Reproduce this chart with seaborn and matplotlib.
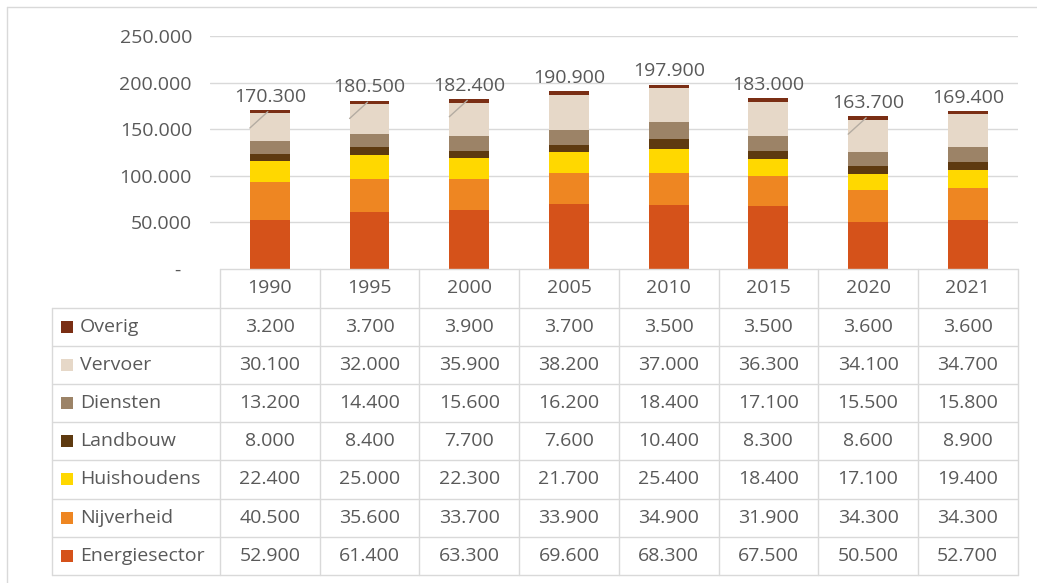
import matplotlib
matplotlib.use("Agg")
import matplotlib.pyplot as plt
import numpy as np
import pandas as pd
import seaborn as sns

# Emissions per sector (stack order: bottom to top)
years = ["1990", "1995", "2000", "2005", "2010", "2015", "2020", "2021"]
sectors = ["Energiesector", "Nijverheid", "Huishoudens", "Landbouw",
           "Diensten", "Vervoer", "Overig"]
energiesector = [52900, 61400, 63300, 69600, 68300, 67500, 50500, 52700]
nijverheid = [40500, 35600, 33700, 33900, 34900, 31900, 34300, 34300]
huishoudens = [22400, 25000, 22300, 21700, 25400, 18400, 17100, 19400]
landbouw = [8000, 8400, 7700, 7600, 10400, 8300, 8600, 8900]
diensten = [13200, 14400, 15600, 16200, 18400, 17100, 15500, 15800]
vervoer = [30100, 32000, 35900, 38200, 37000, 36300, 34100, 34700]
overig = [3200, 3700, 3900, 3700, 3500, 3500, 3600, 3600]
y_ticks = [0, 50000, 100000, 150000, 200000, 250000]
leader_years = ["1990", "1995", "2000", "2020"]

colors = {
    "Energiesector": "#D5521A",
    "Nijverheid": "#EE8622",
    "Huishoudens": "#FFD800",
    "Landbouw": "#5E3A10",
    "Diensten": "#9C8367",
    "Vervoer": "#E6D8C8",
    "Overig": "#7A2E14",
}

values = pd.DataFrame(
    {"Energiesector": energiesector, "Nijverheid": nijverheid,
     "Huishoudens": huishoudens, "Landbouw": landbouw,
     "Diensten": diensten, "Vervoer": vervoer, "Overig": overig},
    index=years,
)
cumulative = values.cumsum(axis=1)
totals = cumulative["Overig"]


def nl(v):
    return f"{int(v):,}".replace(",", ".")


sns.set_style("white")
plt.rcParams["font.family"] = ["Open Sans", "DejaVu Sans"]
TXT = "#595959"
GRID = "#d9d9d9"
FS = 14

W, H = 1037, 583
fig = plt.figure(figsize=(W / 100, H / 100), dpi=100)

# ---- chart area -------------------------------------------------------------
x_left, x_right = 210, 1017.7
y_top, y_bottom = 36, 269
ax = fig.add_axes([x_left / W, 1 - y_bottom / H,
                   (x_right - x_left) / W, (y_bottom - y_top) / H])

# stacked bars: draw the cumulative heights from the top of the stack down
for sector in reversed(sectors):
    sns.barplot(x=years, y=cumulative[sector].values, order=years,
                color=colors[sector], saturation=1, width=0.4,
                errorbar=None, linewidth=0, ax=ax)

ax.set_xlim(-0.6, 7.5)
ax.set_ylim(0, 250000)
for t in y_ticks[1:]:
    ax.axhline(t, color=GRID, lw=1, zorder=0)
ax.set_yticks(y_ticks)
ax.set_yticklabels(["-  "] + [nl(t) for t in y_ticks[1:]])
ax.tick_params(axis="y", length=0, pad=13, labelsize=FS, labelcolor=TXT)
ax.set_xticks([])
ax.set_xlabel("")
ax.set_ylabel("")
for s in ax.spines.values():
    s.set_visible(False)
ax.patch.set_alpha(0)

for i, yr in enumerate(years):
    tot = totals[yr]
    ax.annotate(nl(tot), (i, tot), xytext=(0, 6), textcoords="offset points",
                ha="center", va="baseline", fontsize=FS, color=TXT)
    if yr in leader_years:
        ax.plot([i - 0.2, i - 0.02], [tot - 19000, tot - 1500],
                color="#b4aca2", lw=1, zorder=5)

# ---- data table -------------------------------------------------------------
tb = fig.add_axes([0, 0, 1, 1])
tb.set_xlim(0, W)
tb.set_ylim(H, 0)
tb.axis("off")

col_x0, col_w = 220, 99.7
lab_x0 = 52
row_y0, row_h = 269.3, 38.2
n_rows = len(sectors)
table_bottom = row_y0 + row_h * (n_rows + 1)
col_edges = [col_x0 + col_w * k for k in range(len(years) + 1)]

# header top and row lines
tb.plot([col_x0, col_edges[-1]], [row_y0, row_y0], color=GRID, lw=1)
for r in range(1, n_rows + 2):
    y = row_y0 + row_h * r
    tb.plot([lab_x0, col_edges[-1]], [y, y], color=GRID, lw=1)
# vertical lines
tb.plot([lab_x0, lab_x0], [row_y0 + row_h, table_bottom], color=GRID, lw=1)
for xe in col_edges:
    tb.plot([xe, xe], [row_y0, table_bottom], color=GRID, lw=1)

for c, yr in enumerate(years):
    tb.text(col_x0 + col_w * (c + 0.5), row_y0 + row_h * 0.5, yr,
            ha="center", va="center", fontsize=FS, color=TXT)

for r, sector in enumerate(reversed(sectors)):
    yc = row_y0 + row_h * (r + 1.5)
    tb.add_patch(plt.Rectangle((61, yc - 6), 12, 12,
                               color=colors[sector], lw=0))
    tb.text(80, yc, sector, ha="left", va="center", fontsize=FS, color=TXT)
    for c, yr in enumerate(years):
        tb.text(col_x0 + col_w * (c + 0.5), yc, nl(values.loc[yr, sector]),
                ha="center", va="center", fontsize=FS, color=TXT)

# outer frame (top and left edges)
tb.plot([7, W], [7, 7], color=GRID, lw=1)
tb.plot([7, 7], [7, H], color=GRID, lw=1)

fig.savefig("out.png", dpi=100)
